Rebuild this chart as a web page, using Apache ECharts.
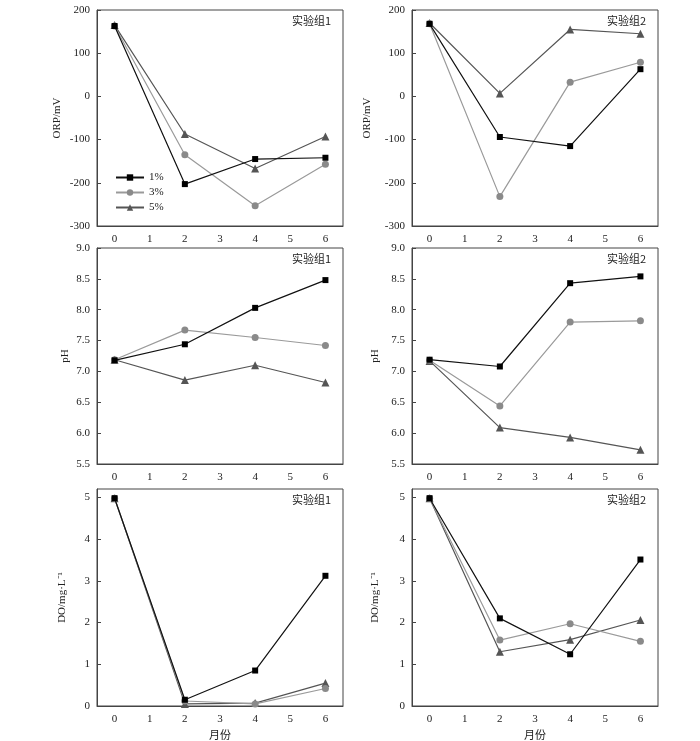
<!DOCTYPE html>
<html><head><meta charset="utf-8">
<script src="https://cdn.jsdelivr.net/npm/echarts@6/dist/echarts.min.js"></script>
<style>html,body{margin:0;padding:0;background:#fff}#c{width:700px;height:741px}</style>
</head><body><div id="c"></div>
<script>
const months = ['0','2','4','6'];
const categories = ['0','1','2','3','4','5','6'];
const seriesNames = ['1%','3%','5%'];

// ORP (mV)
const orpG1_1 = [163, -203, -145, -142];
const orpG1_3 = [163, -135, -253, -157];
const orpG1_5 = [165, -87, -167, -93];
const orpG2_1 = [168, -94, -115, 63];
const orpG2_3 = [168, -232, 33, 79];
const orpG2_5 = [170, 7, 155, 145];
// pH
const phG1_1 = [7.18, 7.44, 8.03, 8.48];
const phG1_3 = [7.19, 7.67, 7.55, 7.42];
const phG1_5 = [7.19, 6.86, 7.10, 6.82];
const phG2_1 = [7.19, 7.08, 8.43, 8.54];
const phG2_3 = [7.18, 6.44, 7.80, 7.82];
const phG2_5 = [7.17, 6.09, 5.93, 5.73];
// DO (mg/L)
const doG1_1 = [4.98, 0.15, 0.85, 3.12];
const doG1_3 = [4.98, 0.12, 0.05, 0.42];
const doG1_5 = [4.98, 0.05, 0.07, 0.55];
const doG2_1 = [4.98, 2.10, 1.24, 3.51];
const doG2_3 = [4.98, 1.58, 1.97, 1.55];
const doG2_5 = [4.98, 1.30, 1.59, 2.06];

const orpTicks = [-300,-200,-100,0,100,200];
const phTicks = [5.5,6.0,6.5,7.0,7.5,8.0,8.5,9.0];
const doTicks = [0,1,2,3,4,5];

const FONT = '"Liberation Serif", "Times New Roman", "Noto Sans CJK SC", serif';
const AXC = '#444';

const styles = [
  {symbol:'rect', symbolSize:6, color:'#000', line:'#111'},
  {symbol:'circle', symbolSize:7, color:'#8a8a8a', line:'#9a9a9a'},
  {symbol:'triangle', symbolSize:8, color:'#555', line:'#555'}
];

const colL = 97, colR = 412, W = 246;
const rows = [{top:10,h:216},{top:248,h:216},{top:489,h:217}];

const grids = [], xAxes = [], yAxes = [], series = [];
const panels = [
  {row:0,col:0,data:[orpG1_1,orpG1_3,orpG1_5],name:'ORP/mV',min:-300,max:200,ticks:orpTicks,fmt:v=>String(v),label:'实验组1',gap:34},
  {row:0,col:1,data:[orpG2_1,orpG2_3,orpG2_5],name:'ORP/mV',min:-300,max:200,ticks:orpTicks,fmt:v=>String(v),label:'实验组2',gap:39},
  {row:1,col:0,data:[phG1_1,phG1_3,phG1_5],name:'pH',min:5.5,max:9.0,ticks:phTicks,fmt:v=>Number(v).toFixed(1),label:'实验组1',gap:26},
  {row:1,col:1,data:[phG2_1,phG2_3,phG2_5],name:'pH',min:5.5,max:9.0,ticks:phTicks,fmt:v=>Number(v).toFixed(1),label:'实验组2',gap:31},
  {row:2,col:0,data:[doG1_1,doG1_3,doG1_5],name:'DO/mg·L\u207B\u00B9',min:0,max:5.2,ticks:doTicks,fmt:v=>String(v),label:'实验组1',gap:29},
  {row:2,col:1,data:[doG2_1,doG2_3,doG2_5],name:'DO/mg·L\u207B\u00B9',min:0,max:5.2,ticks:doTicks,fmt:v=>String(v),label:'实验组2',gap:31}
];
const graphics = [];
panels.forEach((p,i)=>{
  const left = p.col===0?colL:colR;
  const r = rows[p.row];
  grids.push({left:left, top:r.top, width:W, height:r.h, show:true, borderColor:AXC, borderWidth:1, backgroundColor:'transparent'});
  xAxes.push({type:'category', gridIndex:i, data:categories, boundaryGap:true,
    axisLine:{onZero:false, lineStyle:{color:AXC}},
    axisTick:{alignWithLabel:true, inside:true, length:4, lineStyle:{color:AXC}},
    axisLabel:{color:'#222', fontFamily:FONT, fontSize:11, margin:8},
    name: p.row===2?'月份':'', nameLocation:'middle', nameGap:23,
    nameTextStyle:{color:'#222', fontFamily:'"Noto Sans CJK SC", sans-serif', fontSize:11}});
  yAxes.push({type:'value', gridIndex:i, min:p.min, max:p.max,
    splitLine:{show:false},
    axisLine:{show:true, lineStyle:{color:AXC}},
    axisTick:{show:true, inside:true, length:4, customValues:p.ticks, lineStyle:{color:AXC}},
    axisLabel:{customValues:p.ticks, formatter:p.fmt, color:'#222', fontFamily:FONT, fontSize:11, margin:7},
    name:p.name, nameLocation:'middle', nameRotate:90, nameGap:p.gap,
    nameTextStyle:{color:'#222', fontFamily:FONT, fontSize:11}});
  p.data.forEach((vals,k)=>{
    const s = styles[k];
    series.push({type:'line', name:seriesNames[k], xAxisIndex:i, yAxisIndex:i,
      data: months.map((m,j)=>[m, vals[j]]),
      symbol:s.symbol, symbolSize:s.symbolSize, showAllSymbol:true,
      itemStyle:{color:s.color}, lineStyle:{color:s.line, width:1.2},
      z: 3-k, animation:false});
  });
  graphics.push({type:'text', right: p.col===0? 700-colL-W+12 : 700-colR-W+12, top:r.top+5,
    style:{text:p.label, fill:'#222', font:'11px "Noto Sans CJK SC", sans-serif'}});
});

const chart = echarts.init(document.getElementById('c'));
chart.setOption({
  backgroundColor:'#fff',
  animation:false,
  grid:grids, xAxis:xAxes, yAxis:yAxes, series:series,
  legend:{data:seriesNames, orient:'vertical', left:110, top:167, itemWidth:28, itemHeight:8, itemGap:4,
    textStyle:{fontFamily:FONT, fontSize:11, color:'#222'}},
  graphic:graphics
});
</script></body></html>
